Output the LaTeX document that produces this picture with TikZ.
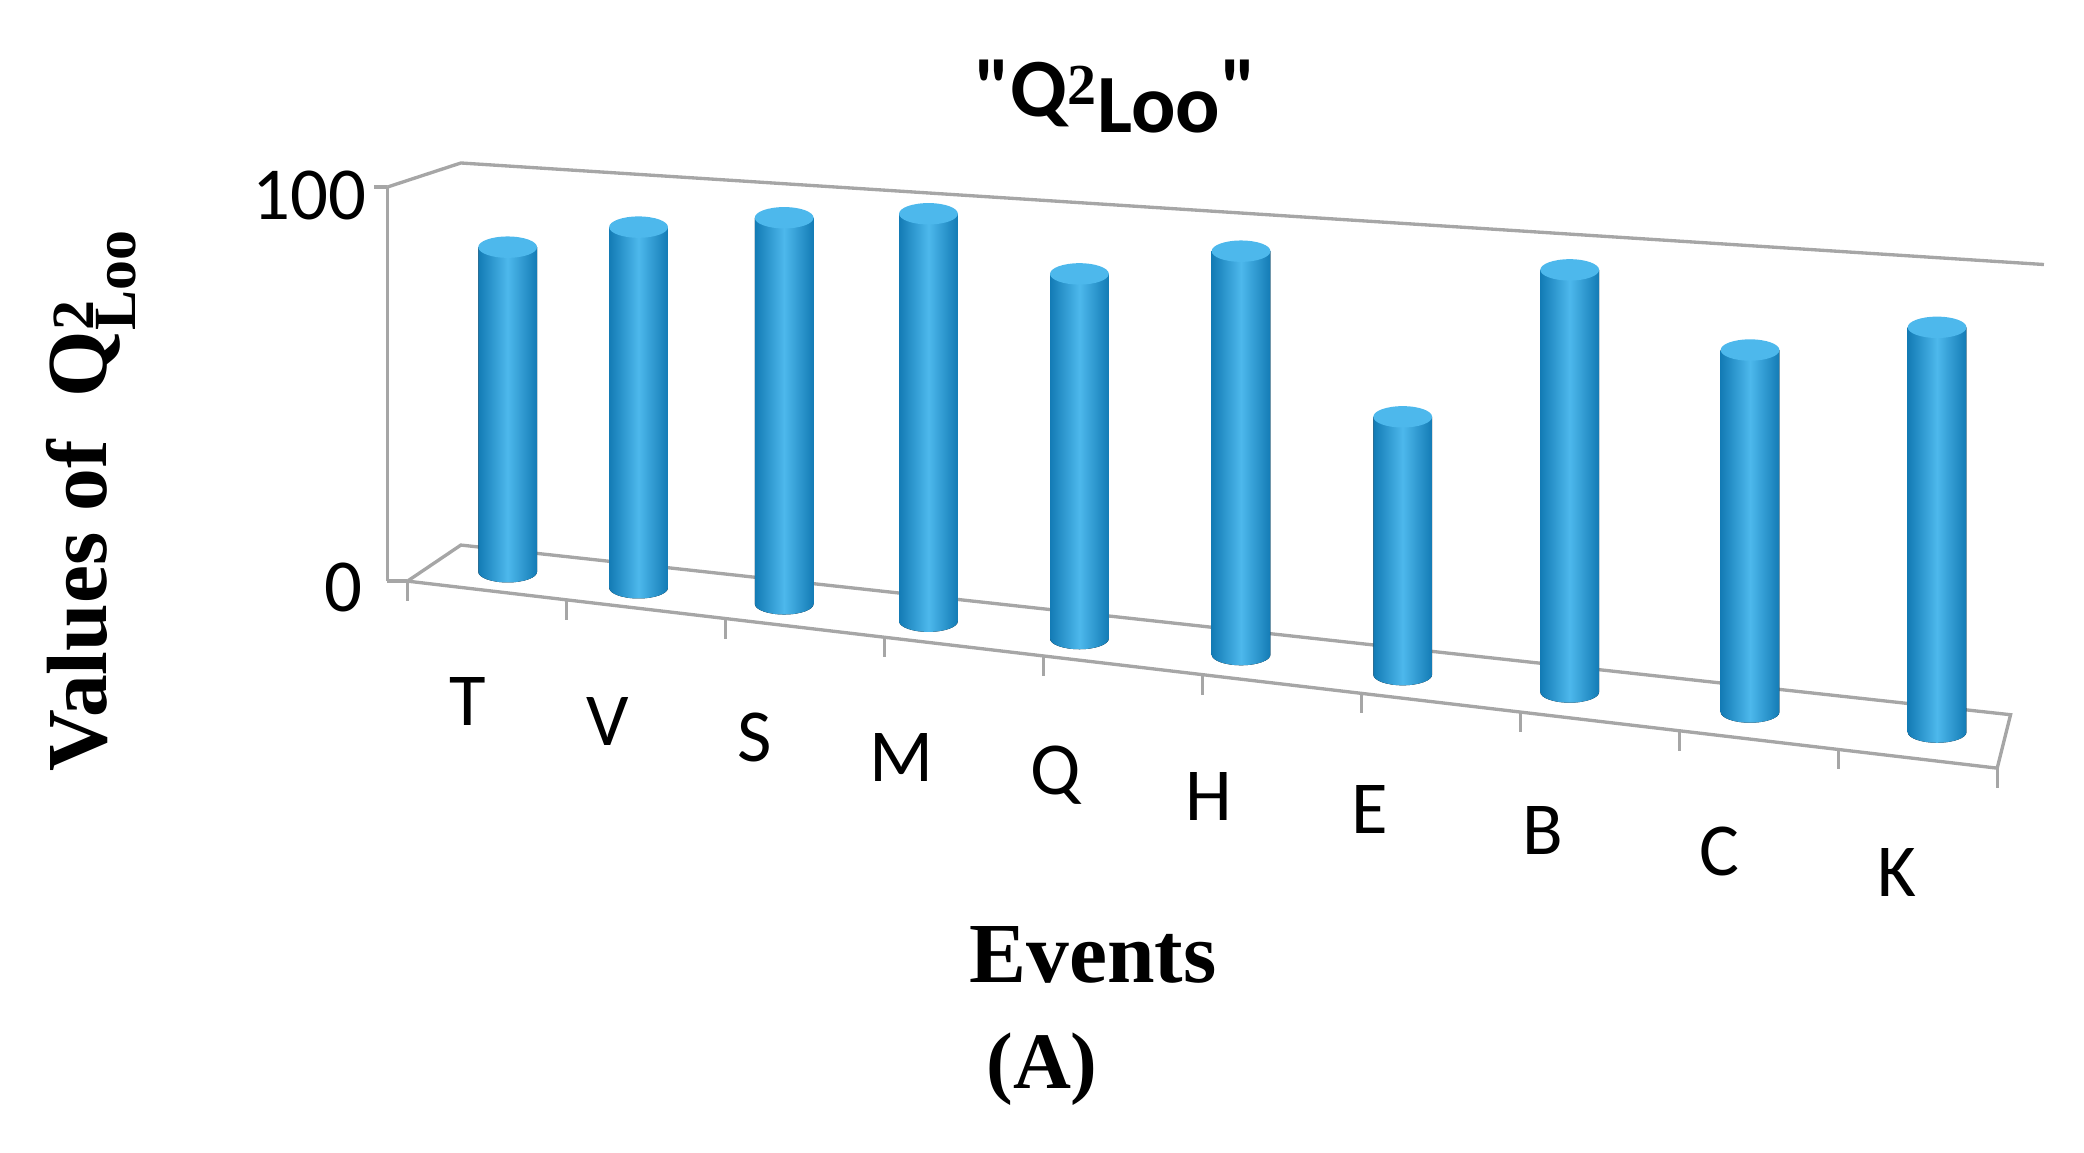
\documentclass[tikz,border=0pt]{standalone}
\usepackage{fontspec}
\setmainfont{Liberation Serif}
\newfontfamily\carfont{Carlito}
\definecolor{gl}{HTML}{A6A6A6}
\definecolor{cb}{HTML}{1F9ADB}
\definecolor{cbd}{HTML}{137BB5}
\definecolor{cbl}{HTML}{4DB8EC}
\begin{document}
\begin{tikzpicture}[x=1pt,y=-1pt,
  grid/.style={draw=gl,line width=2.5pt},
  cat/.style={font=\carfont\fontsize{56}{60}\selectfont},
  cyl/.style={left color=cbd,right color=cbd,middle color=cbl}]
\useasboundingbox (0,0) rectangle (1560,863);
% walls
\coordinate (lt) at (290,140); \coordinate (bt) at (345,122);
\coordinate (rt) at (1530,198); \coordinate (bb) at (345,408);
\coordinate (br) at (1505,535); \coordinate (fl) at (305,435);
\coordinate (fr) at (1495,575); \coordinate (lb) at (290,435);
\draw[grid] (lt) -- (bt) -- (rt);
\draw[grid] (lt) -- (lb);
\draw[grid] (fl) -- (bb) -- (br) -- (fr) -- (fl);
\draw[grid] (lb) -- (fl);
\draw[grid] (lt) -- ++(-10,0);
\foreach \i in {0,...,10}{
  \pgfmathsetmacro{\tx}{305+119*\i}
  \pgfmathsetmacro{\ty}{435+14*\i}
  \draw[grid] (\tx,\ty) -- ++(0,15);
}
% cylinders
\foreach \cx/\top/\bot in {380/185/428,478/170/440,587/163/452,695/160/465,808/205/478,929/188/490,1050/312/505,1175/202/518,1310/262/533,1450/245/548}{
  \fill[cyl] (\cx-22,\top) -- (\cx-22,\bot) arc[start angle=180,end angle=360,x radius=22,y radius=-8] -- (\cx+22,\top) -- cycle;
  \fill[cbl] (\cx,\top) ellipse[x radius=22,y radius=8];
}
% category labels
\foreach \l/\x/\y in {T/350/525,V/455/540,S/565/552,M/675/567,Q/790/580,H/905/596,E/1025/606,B/1155/622,C/1287/637,K/1420/653}
  \node[cat] (n\l) at (\x,\y) {\l};
\node[cat,anchor=east] (y100) at (278,146) {100};
\node[cat,anchor=east] (y0) at (275,440) {0};
\node[font=\carfont\bfseries\fontsize{62}{64}\selectfont] (title) at (835,72) {"Q$^{\mathbf 2}$\raisebox{-12pt}{Loo}"};
\node[font=\bfseries\fontsize{64}{66}\selectfont,rotate=90] (ytitle) at (68,375) {Values of \ Q$^{\mathbf 2}_{\mathrm{\bf Loo}}$};
\node[font=\bfseries\fontsize{64}{66}\selectfont] (events) at (818,715) {Events};
\node[font=\bfseries\fontsize{60}{62}\selectfont] (A) at (780,800) {(A)};
\end{tikzpicture}
\end{document}
